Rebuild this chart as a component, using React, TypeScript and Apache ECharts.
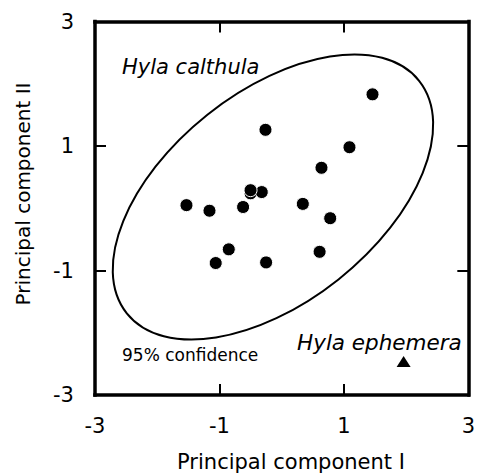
import { useEffect, useRef } from "react";
import * as echarts from "echarts";

// Hyla calthula scores (last point drawn on top of the first one)
const calthulaPC1 = [-0.5, -0.26, 0.64, -0.32, -1.53, -1.16, -0.62, 0.34, 0.78, -0.85, -1.06, -0.25, 0.61, 1.46, 1.09, -0.5];
const calthulaPC2 = [0.24, 1.26, 0.65, 0.26, 0.05, -0.04, 0.02, 0.07, -0.16, -0.66, -0.88, -0.87, -0.7, 1.83, 0.98, 0.29];

// Hyla ephemera score
const ephemeraPC1 = [1.96];
const ephemeraPC2 = [-2.46];

// 95% confidence ellipse: centre, semi-axes, rotation (degrees)
const ellipseCenter = [-0.14, 0.18];
const ellipseAxes = [3.0, 1.69];
const ellipseAngle = 38.5;

const axisTicks = [-3, -1, 1, 3];

const FONT = '"DejaVu Sans", "Liberation Sans", Arial, sans-serif';

export default function App() {
  const ref = useRef<HTMLDivElement>(null);
  useEffect(() => {
    document.body.style.margin = "0";
    const chart = echarts.init(ref.current!, null, { renderer: "svg" });
    const lineStyle = { color: "#000", width: 3.5, cap: "square" as const };
    const tick = { show: true, inside: true, length: 11, lineStyle: { color: "#000", width: 2 } };
    const label = {
      show: true,
      fontSize: 21,
      fontFamily: FONT,
      color: "#000",
      formatter: (v: number) => (axisTicks.includes(v) ? String(v) : ""),
    };
    const base = {
      type: "value" as const,
      min: axisTicks[0],
      max: axisTicks[axisTicks.length - 1],
      interval: 2,
      splitLine: { show: false },
      axisLine: { show: true, onZero: false, lineStyle },
      axisTick: tick,
    };
    chart.setOption({
      animation: false,
      backgroundColor: "#fff",
      grid: { left: 95, right: 8, top: 21.5, bottom: 79, containLabel: false },
      xAxis: [
        { ...base, position: "bottom", axisLabel: { ...label, margin: 20 } },
        { ...base, position: "top", axisLabel: { show: false } },
      ],
      yAxis: [
        { ...base, position: "left", axisLabel: { ...label, margin: 21 } },
        { ...base, position: "right", axisLabel: { show: false } },
      ],
      series: [
        {
          type: "custom",
          silent: true,
          xAxisIndex: 0,
          yAxisIndex: 0,
          encode: { x: 0, y: 1 },
          data: [[ellipseCenter[0], ellipseCenter[1], ellipseAxes[0], ellipseAxes[1], ellipseAngle]],
          renderItem: (_params: any, api: any) => {
            const c = api.coord([api.value(0), api.value(1)]);
            const s = api.size([api.value(2), api.value(3)]);
            return {
              type: "ellipse",
              x: c[0],
              y: c[1],
              rotation: (api.value(4) * Math.PI) / 180,
              shape: { cx: 0, cy: 0, rx: s[0], ry: s[1] },
              style: { fill: "none", stroke: "#000", lineWidth: 2 },
            };
          },
          z: 1,
        },
        {
          type: "scatter",
          name: "Hyla calthula",
          symbol: "circle",
          symbolSize: 13,
          itemStyle: { color: "#000", borderColor: "#fff", borderWidth: 1, opacity: 1 },
          data: calthulaPC1.map((x, i) => [x, calthulaPC2[i]]),
          z: 3,
        },
        {
          type: "scatter",
          name: "Hyla ephemera",
          symbol: "triangle",
          symbolSize: [14, 11],
          itemStyle: { color: "#000", opacity: 1 },
          data: ephemeraPC1.map((x, i) => [x, ephemeraPC2[i]]),
          z: 3,
        },
      ],
      graphic: [
        {
          type: "text",
          x: 122,
          y: 67,
          style: { text: "Hyla calthula", font: `italic 21px ${FONT}`, fill: "#000", align: "left", verticalAlign: "middle" },
        },
        {
          type: "text",
          x: 297,
          y: 342.5,
          style: { text: "Hyla ephemera", font: `italic 21.5px ${FONT}`, fill: "#000", align: "left", verticalAlign: "middle" },
        },
        {
          type: "text",
          x: 122,
          y: 354.5,
          style: { text: "95% confidence", font: `17px ${FONT}`, fill: "#000", align: "left", verticalAlign: "middle" },
        },
        {
          type: "text",
          x: 291,
          y: 462,
          style: { text: "Principal component I", font: `21px ${FONT}`, fill: "#000", align: "center", verticalAlign: "middle" },
        },
        {
          type: "text",
          x: 22.5,
          y: 194,
          rotation: Math.PI / 2,
          style: { text: "Principal component II", font: `20px ${FONT}`, fill: "#000", align: "center", verticalAlign: "middle" },
        },
      ],
    });
    return () => chart.dispose();
  }, []);
  return <div ref={ref} style={{ width: 478, height: 474 }} />;
}
